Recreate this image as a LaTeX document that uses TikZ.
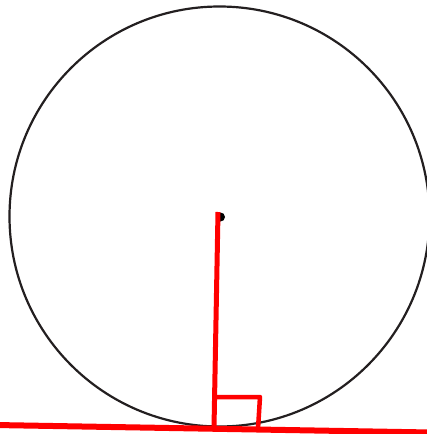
\documentclass[tikz,border=0pt]{standalone}
\begin{document}
\begin{tikzpicture}[x=1pt,y=-1pt,
  circ/.style={line width=2.2pt, draw={rgb,255:red,35;green,31;blue,32}},
  redline/.style={line width=5pt, draw=red},
  tanline/.style={line width=6pt, draw=red}]
\useasboundingbox (0,0) rectangle (426,434);
\coordinate (O) at (219.5,216.5);
\coordinate (D) at (220.5,217);
\coordinate (Q) at (218,212);
\coordinate (P) at (214,428);
\coordinate (TL) at (-5,425);
\coordinate (TR) at (431,432.5);
\coordinate (A) at (214,397);
\coordinate (B) at (260,397);
\coordinate (C) at (258,429);
\draw[circ] (O) circle (210);
\fill[black] (D) circle (4.5);
\draw[tanline] (TL) -- (TR);
\draw[redline] (Q) -- (P);
\draw[line width=4.5pt, draw=red, line join=round] (A) -- (B) -- (C);
\end{tikzpicture}
\end{document}
